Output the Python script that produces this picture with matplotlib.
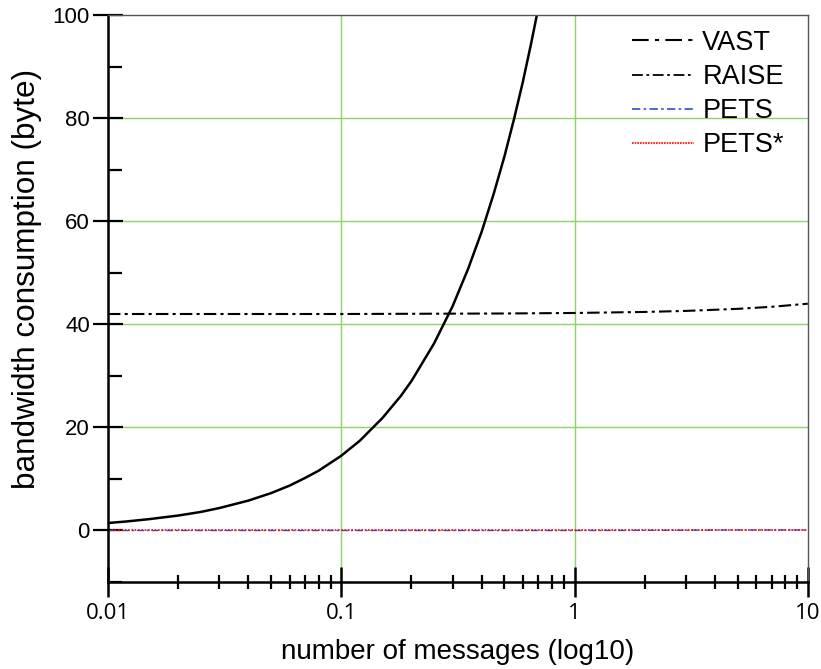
import numpy as np
import matplotlib
matplotlib.use("Agg")
from matplotlib import pyplot as plt
from matplotlib.lines import Line2D
from matplotlib.ticker import FixedLocator, LogLocator, NullFormatter

# data
vast_x = [0.01, 0.012, 0.015, 0.02, 0.025, 0.03, 0.04, 0.05, 0.06, 0.07, 0.08, 0.1,
          0.12, 0.15, 0.18, 0.2, 0.25, 0.3, 0.35, 0.4, 0.45, 0.5, 0.55, 0.6, 0.65, 0.7]
vast_y = [1.45, 1.75, 2.2, 2.9, 3.6, 4.35, 5.8, 7.25, 8.7, 10.2, 11.6, 14.5,
          17.4, 21.8, 26.1, 29.0, 36.3, 43.5, 50.8, 58.0, 65.3, 72.5, 79.8, 87.0, 94.3, 101.5]

raise_x = [0.01, 0.1, 0.5, 1, 2, 3, 5, 7, 10]
raise_y = [42.0, 42.0, 42.1, 42.2, 42.4, 42.6, 43.0, 43.4, 44.0]

pets_x = [0.01, 0.1, 1, 3, 5, 10]
pets_y = [0.0, 0.0, 0.0, 0.05, 0.1, 0.1]

petsstar_x = [0.01, 0.1, 1, 10]
petsstar_y = [0.0, 0.0, 0.0, 0.0]

x_ticks = [0.01, 0.1, 1, 10]
x_ticklabels = ["0.01", "0.1", "1", "10"]
y_ticks = [0, 20, 40, 60, 80, 100]

xtickfont = "Open Sans"
font = "Liberation Sans"

fig = plt.figure(figsize=(8.21, 6.69), dpi=100)
ax = fig.add_axes([0.1315, 0.130, 0.8525, 0.8475])

ax.plot(vast_x, vast_y, color="black", lw=1.8, solid_capstyle="butt")
raise_ls = (0, (6, 2, 1.5, 2))
ax.plot(raise_x, raise_y, color="black", lw=1.5, linestyle=raise_ls)
pets_ls = (0, (5, 2, 1.5, 2))
ax.plot(pets_x, pets_y, color="#3050c8", lw=1.0, linestyle=pets_ls)
ax.plot(petsstar_x, petsstar_y, color="red", lw=1.2, linestyle=(0, (1, 1)))

ax.set_xscale("log")
ax.set_xlim(0.01, 10)
ax.set_ylim(-10, 100)

# green grid at selected positions
for gx in [0.1, 1]:
    ax.axvline(gx, color="#8fd16a", lw=1.0, zorder=0)
for gy in [20, 40, 60, 80]:
    ax.axhline(gy, color="#8fd16a", lw=1.0, zorder=0)

ax.xaxis.set_major_locator(FixedLocator(x_ticks))
ax.set_xticklabels(x_ticklabels)
ax.xaxis.set_minor_locator(LogLocator(base=10, subs=np.arange(2, 10)))
ax.xaxis.set_minor_formatter(NullFormatter())
ax.set_yticks(y_ticks)
ax.set_yticks([-10, 10, 30, 50, 70, 90], minor=True)

ax.tick_params(axis="x", which="major", direction="inout", length=22, width=1.8, labelsize=16, pad=4)
ax.tick_params(axis="x", which="minor", direction="inout", length=10, width=1.6)
ax.tick_params(axis="y", which="major", direction="inout", length=22, width=1.6, labelsize=16, pad=2)
ax.tick_params(axis="y", which="minor", direction="in", length=10, width=1.6)
for lab in ax.get_xticklabels():
    lab.set_fontfamily(xtickfont)
for lab in ax.get_yticklabels():
    lab.set_fontfamily(font)

for s in ["left", "bottom"]:
    ax.spines[s].set_linewidth(1.8)
for s in ["top", "right"]:
    ax.spines[s].set_linewidth(1.0)
    ax.spines[s].set_color("#555555")

ax.set_xlabel("number of messages (log10)", fontsize=20, family=font, labelpad=11)
ax.set_ylabel("bandwidth consumption (byte)", fontsize=22.7, family=font)
ax.yaxis.set_label_coords(-0.094, 0.534)

handles = [
    Line2D([], [], color="black", lw=1.5, linestyle=(0, (8, 3, 2, 3))),
    Line2D([], [], color="black", lw=1.3, linestyle=raise_ls),
    Line2D([], [], color="#3050c8", lw=1.2, linestyle=pets_ls),
    Line2D([], [], color="red", lw=1.2, linestyle=(0, (1, 0.6))),
]
ax.legend(handles, ["VAST", "RAISE", "PETS", "PETS*"], loc="upper right",
          bbox_to_anchor=(0.987, 1.0),
          frameon=False, prop={"family": font, "size": 19.5}, handlelength=2.3,
          handletextpad=0.3, labelspacing=0.3, borderaxespad=0.15)

fig.savefig("out.png", dpi=100)
